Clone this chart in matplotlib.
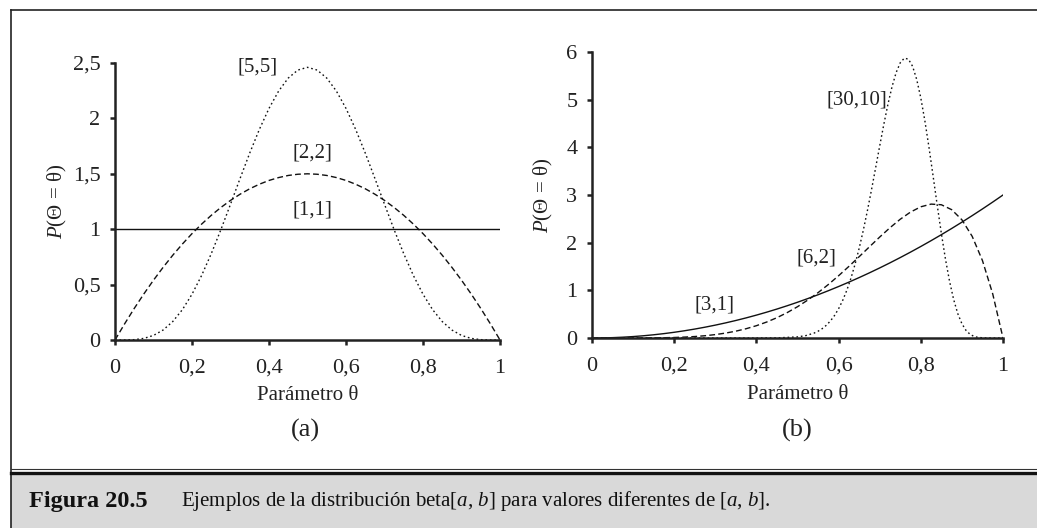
import matplotlib
matplotlib.use("Agg")
import matplotlib.pyplot as plt
from matplotlib.patches import Rectangle
from matplotlib.lines import Line2D

plt.rcParams['font.family'] = ['Liberation Serif', 'DejaVu Serif']
plt.rcParams['mathtext.fontset'] = 'custom'
plt.rcParams['mathtext.rm'] = 'Liberation Serif'
plt.rcParams['mathtext.it'] = 'Liberation Serif:italic'
plt.rcParams['mathtext.bf'] = 'Liberation Serif:bold'

# ---------------- data ----------------
theta = [0.0, 0.025, 0.05, 0.075, 0.1, 0.125, 0.15, 0.175, 0.2, 0.225, 0.25,
         0.275, 0.3, 0.325, 0.35, 0.375, 0.4, 0.425, 0.45, 0.475, 0.5,
         0.525, 0.55, 0.575, 0.6, 0.625, 0.65, 0.675, 0.7, 0.725, 0.75,
         0.775, 0.8, 0.825, 0.85, 0.875, 0.9, 0.925, 0.95, 0.975, 1.0]

beta_1_1 = [1.0] * 41
beta_2_2 = [0.0, 0.146, 0.285, 0.416, 0.54, 0.656, 0.765, 0.866, 0.96, 1.046, 1.125,
            1.196, 1.26, 1.316, 1.365, 1.406, 1.44, 1.466, 1.485, 1.496, 1.5,
            1.496, 1.485, 1.466, 1.44, 1.406, 1.365, 1.316, 1.26, 1.196, 1.125,
            1.046, 0.96, 0.866, 0.765, 0.656, 0.54, 0.416, 0.285, 0.146, 0.0]
beta_5_5 = [0.0, 0.0002, 0.0032, 0.0146, 0.0413, 0.0902, 0.1665, 0.2737, 0.4129, 0.5825, 0.7787,
            0.9954, 1.2252, 1.4591, 1.6876, 1.901, 2.0902, 2.2468, 2.364, 2.4364, 2.4609,
            2.4364, 2.364, 2.2468, 2.0902, 1.901, 1.6876, 1.4591, 1.2252, 0.9954, 0.7787,
            0.5825, 0.4129, 0.2737, 0.1665, 0.0902, 0.0413, 0.0146, 0.0032, 0.0002, 0.0]

beta_3_1 = [0.0, 0.0019, 0.0075, 0.0169, 0.03, 0.0469, 0.0675, 0.0919, 0.12, 0.1519, 0.1875,
            0.2269, 0.27, 0.3169, 0.3675, 0.4219, 0.48, 0.5419, 0.6075, 0.6769, 0.75,
            0.8269, 0.9075, 0.9919, 1.08, 1.1719, 1.2675, 1.3669, 1.47, 1.5769, 1.6875,
            1.8019, 1.92, 2.0419, 2.1675, 2.2969, 2.43, 2.5669, 2.7075, 2.8519, 3.0]
beta_6_2 = [0.0, 0.0, 0.0, 0.0001, 0.0004, 0.0011, 0.0027, 0.0057, 0.0108, 0.0188, 0.0308,
            0.0476, 0.0714, 0.1028, 0.1434, 0.1947, 0.2581, 0.3349, 0.4263, 0.5332, 0.6563,
            0.7957, 0.9512, 1.122, 1.3064, 1.502, 1.7056, 1.9128, 2.1177, 2.3135, 2.4917,
            2.642, 2.7525, 2.809, 2.7954, 2.6928, 2.4801, 2.1331, 1.6249, 0.9252, 0.0]

theta_30_10 = [0.0, 0.1, 0.2, 0.3, 0.4, 0.45, 0.5, 0.52, 0.54,
               0.55, 0.56, 0.57, 0.58, 0.59, 0.6, 0.61, 0.62, 0.63, 0.64, 0.65, 0.66,
               0.67, 0.68, 0.69, 0.7, 0.71, 0.72, 0.73, 0.74, 0.75, 0.76, 0.77, 0.78,
               0.79, 0.8, 0.81, 0.82, 0.83, 0.84, 0.85, 0.86, 0.87, 0.88, 0.89, 0.9,
               0.91, 0.92, 0.93, 0.94, 0.96, 0.98, 1.0]
beta_30_10 = [0.0, 0.0, 0.0, 0.0, 0.0002, 0.0026, 0.0231, 0.05, 0.1017,
              0.1421, 0.1958, 0.266, 0.3564, 0.471, 0.6141, 0.7897, 1.0016, 1.2531, 1.5461, 1.881, 2.2562,
              2.6673, 3.1073, 3.5658, 4.0292, 4.4806, 4.9017, 5.2715, 5.5688, 5.7745, 5.872, 5.8487, 5.6998,
              5.4258, 5.0368, 4.5511, 3.9934, 3.393, 2.7827, 2.1941, 1.6554, 1.1881, 0.8052, 0.5106, 0.2995,
              0.1598, 0.076, 0.0313, 0.0107, 0.0005, 0.0, 0.0]

xticks = [0, 0.2, 0.4, 0.6, 0.8, 1]
xticklabels = ['0', '0,2', '0,4', '0,6', '0,8', '1']
yticks_a = [0, 0.5, 1, 1.5, 2, 2.5]
yticklabels_a = ['0', '0,5', '1', '1,5', '2', '2,5']
yticks_b = [0, 1, 2, 3, 4, 5, 6]
yticklabels_b = ['0', '1', '2', '3', '4', '5', '6']

labels_a = ['[1,1]', '[2,2]', '[5,5]']
labels_b = ['[3,1]', '[6,2]', '[30,10]']

# ---------------- figure ----------------
W, H = 1037, 528
fig = plt.figure(figsize=(W / 100, H / 100), dpi=100)

def fx(px):
    return px / W

def fy(py):
    return 1 - py / H

# frame and caption box
fig.add_artist(Rectangle((fx(11), 0), 1 - fx(11), fy(475), transform=fig.transFigure,
                         facecolor='#d9d9d9', edgecolor='none', zorder=0))
fig.add_artist(Line2D([fx(11), fx(11)], [0, fy(10)], transform=fig.transFigure,
                      color='#222222', lw=1.2))
fig.add_artist(Line2D([fx(11), 1], [fy(10), fy(10)], transform=fig.transFigure,
                      color='#222222', lw=1.2))
fig.add_artist(Line2D([fx(11), 1], [fy(469), fy(469)], transform=fig.transFigure,
                      color='#333333', lw=0.8))
fig.add_artist(Line2D([fx(11), 1], [fy(473), fy(473)], transform=fig.transFigure,
                      color='#111111', lw=2.4))

ax_a = fig.add_axes([fx(115), fy(340), fx(500) - fx(115), fy(63) - fy(340)])
ax_b = fig.add_axes([fx(592), fy(338), fx(1003) - fx(592), fy(52) - fy(338)])

lw = 1.0
dash = (0, (4.2, 2.3))
dot = (0, (1.2, 2.0))

ax_a.plot(theta, beta_1_1, color='#111111', lw=lw, linestyle='-')
ax_a.plot(theta, beta_2_2, color='#111111', lw=lw, linestyle=dash)
ax_a.plot(theta, beta_5_5, color='#111111', lw=lw, linestyle=dot)

ax_b.plot(theta, beta_3_1, color='#111111', lw=lw, linestyle='-')
ax_b.plot(theta, beta_6_2, color='#111111', lw=lw, linestyle=dash)
ax_b.plot(theta_30_10, beta_30_10, color='#111111', lw=lw, linestyle=dot)

tick_fs = 16
for ax, yt, ytl, ymax, ylx in [(ax_a, yticks_a, yticklabels_a, 2.5, -0.15),
                               (ax_b, yticks_b, yticklabels_b, 6, -0.117)]:
    ax.set_xlim(0, 1)
    ax.set_ylim(0, ymax)
    ax.set_xticks(xticks)
    ax.set_xticklabels(xticklabels, fontsize=tick_fs, color='#222222')
    ax.set_yticks(yt)
    ax.set_yticklabels(ytl, fontsize=tick_fs, color='#222222')
    ax.spines['top'].set_visible(False)
    ax.spines['right'].set_visible(False)
    for s in ['left', 'bottom']:
        ax.spines[s].set_linewidth(1.8)
        ax.spines[s].set_color('#222222')
    ax.tick_params(axis='x', direction='out', length=3.5, width=1.8, color='#222222', pad=10)
    ax.tick_params(axis='y', direction='out', length=3.5, width=1.8, color='#222222', pad=7)
    ax.set_xlabel('Parámetro θ', fontsize=15, color='#222222')
    ax.set_ylabel('$P$(Θ = θ)', fontsize=15, color='#222222')
    ax.xaxis.set_label_coords(0.5, -0.199)
    ax.yaxis.set_label_coords(ylx, 0.5)
    ax.xaxis.label.set_va('center')
    ax.yaxis.label.set_va('center')
    ax.patch.set_visible(False)

ann_fs = 15
ax_a.text(0.512, 1.17, labels_a[0], fontsize=ann_fs, ha='center', va='center', color='#222222')
ax_a.text(0.512, 1.69, labels_a[1], fontsize=ann_fs, ha='center', va='center', color='#222222')
ax_a.text(0.371, 2.46, labels_a[2], fontsize=ann_fs, ha='center', va='center', color='#222222')

ax_b.text(0.297, 0.69, labels_b[0], fontsize=ann_fs, ha='center', va='center', color='#222222')
ax_b.text(0.547, 1.68, labels_b[1], fontsize=ann_fs, ha='center', va='center', color='#222222')
ax_b.text(0.644, 4.99, labels_b[2], fontsize=ann_fs, ha='center', va='center', color='#222222')

fig.text(fx(305), fy(430), '(a)', fontsize=19, ha='center', va='center', color='#222222')
fig.text(fx(797), fy(430), '(b)', fontsize=19, ha='center', va='center', color='#222222')

fig.text(fx(29), fy(501), 'Figura 20.5', fontsize=17.5, fontweight='bold', ha='left', va='center',
         color='#111111')
fig.text(fx(181), fy(501), 'Ejemplos de la distribución beta[$a$, $b$] para valores diferentes de [$a$, $b$].',
         fontsize=15, ha='left', va='center', color='#111111')

fig.savefig('out.png', dpi=100)
